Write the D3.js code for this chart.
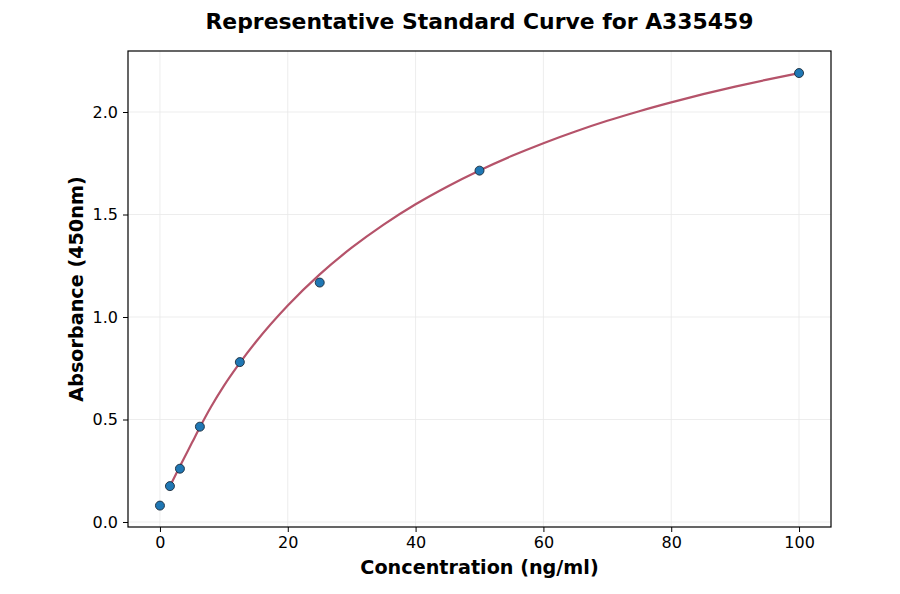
<!DOCTYPE html>
<html>
<head>
<meta charset="utf-8">
<script src="https://cdn.jsdelivr.net/npm/d3@7"></script>
<style>
  body { margin: 0; background: #fff; }
  svg { font-family: "DejaVu Sans", sans-serif; }
</style>
</head>
<body>
<svg id="chart" width="900" height="594"></svg>
<script>
// measured standards
const concentrations = [0, 1.5625, 3.125, 6.25, 12.5, 25, 50, 100];
const absorbances = [0.08, 0.175, 0.26, 0.465, 0.78, 1.168, 1.714, 2.19];

// fitted curve
const curveX = [1.5625, 3.125, 5, 6.25, 8, 10, 12.5, 15, 20, 25, 30, 35, 40, 45, 50, 55, 60, 65, 70, 75, 80, 85, 90, 95, 100];
const curveY = [0.175, 0.272, 0.386, 0.462, 0.562, 0.664, 0.776, 0.878, 1.056, 1.208, 1.338, 1.451, 1.55, 1.637, 1.715, 1.785, 1.848, 1.905, 1.957, 2.004, 2.047, 2.087, 2.124, 2.158, 2.19];

const xTicks = [0, 20, 40, 60, 80, 100];
const yTicks = [0.0, 0.5, 1.0, 1.5, 2.0];

const svg = d3.select('#chart');
const margin = {left: 128, right: 69, top: 51, bottom: 67};
const width = 900 - margin.left - margin.right;
const height = 594 - margin.top - margin.bottom;

const x = d3.scaleLinear().domain([-5, 105]).range([0, width]);
const y = d3.scaleLinear().domain([-0.0244, 2.2976]).range([height, 0]);

const g = svg.append('g').attr('transform', `translate(${margin.left},${margin.top})`);

// grid
g.append('g').selectAll('line').data(xTicks).join('line')
    .attr('x1', d => x(d)).attr('x2', d => x(d))
    .attr('y1', 0).attr('y2', height)
    .attr('stroke', '#e8e8e8').attr('stroke-width', 0.8);
g.append('g').selectAll('line').data(yTicks).join('line')
    .attr('y1', d => y(d)).attr('y2', d => y(d))
    .attr('x1', 0).attr('x2', width)
    .attr('stroke', '#e8e8e8').attr('stroke-width', 0.8);

// axes
const xAxis = g.append('g').attr('transform', `translate(0,${height})`)
    .call(d3.axisBottom(x).tickValues(xTicks).tickSize(5).tickPadding(5).tickFormat(d3.format('d')));
const yAxis = g.append('g')
    .call(d3.axisLeft(y).tickValues(yTicks).tickSize(5).tickPadding(5).tickFormat(d3.format('.1f')));
[xAxis, yAxis].forEach(a => {
    a.select('.domain').remove();
    a.selectAll('text').attr('font-size', 16).attr('fill', '#000').attr('font-family', '"DejaVu Sans", sans-serif');
    a.selectAll('line').attr('stroke', '#000').attr('stroke-width', 1);
});

// curve
const line = d3.line().x(d => x(d[0])).y(d => y(d[1])).curve(d3.curveMonotoneX);
g.append('path')
    .datum(d3.zip(curveX, curveY))
    .attr('d', line)
    .attr('fill', 'none')
    .attr('stroke', '#b5536a')
    .attr('stroke-width', 2.2);

// points
g.append('g').selectAll('circle').data(d3.zip(concentrations, absorbances)).join('circle')
    .attr('cx', d => x(d[0])).attr('cy', d => y(d[1]))
    .attr('r', 4.5)
    .attr('fill', '#1f77b4')
    .attr('stroke', '#1a2a3a')
    .attr('stroke-width', 0.9);

// frame
g.append('rect').attr('width', width).attr('height', height)
    .attr('fill', 'none').attr('stroke', '#000').attr('stroke-width', 1.2);

// labels
svg.append('text').attr('x', margin.left + width / 2).attr('y', 29)
    .attr('text-anchor', 'middle').attr('font-size', 21.9).attr('font-weight', 'bold')
    .text('Representative Standard Curve for A335459');
svg.append('text').attr('x', margin.left + width / 2).attr('y', 574)
    .attr('text-anchor', 'middle').attr('font-size', 19.2).attr('font-weight', 'bold')
    .text('Concentration (ng/ml)');
svg.append('text')
    .attr('transform', `translate(83,${margin.top + height / 2}) rotate(-90)`)
    .attr('text-anchor', 'middle').attr('font-size', 19.2).attr('font-weight', 'bold')
    .text('Absorbance (450nm)');
</script>
</body>
</html>
